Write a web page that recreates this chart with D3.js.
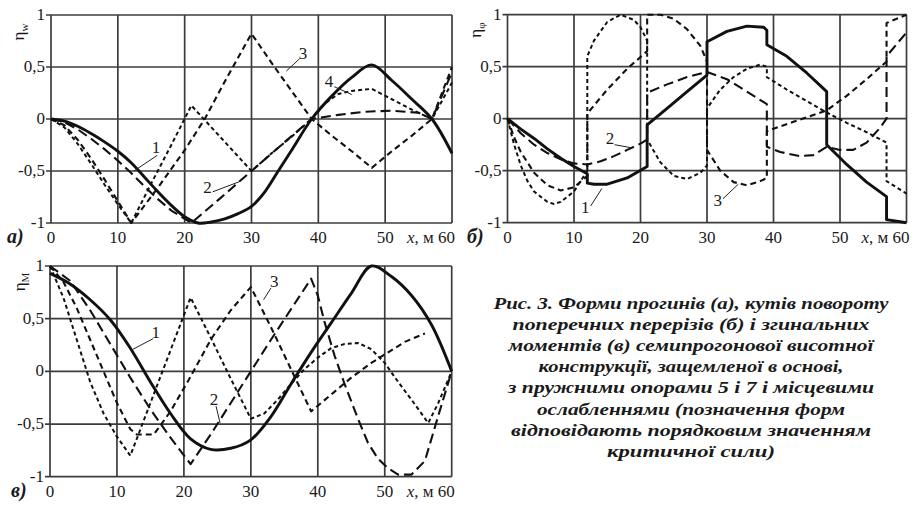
<!DOCTYPE html>
<html>
<head>
<meta charset="utf-8">
<script src="https://cdn.jsdelivr.net/npm/d3@7"></script>
<style>
  body { margin: 0; background: #fff; }
  text { font-family: "Liberation Serif", "Times New Roman", serif; fill: #1a1a1a; }
</style>
</head>
<body>
<svg id="chart" width="917" height="505"></svg>
<script>
const svg = d3.select("#chart");

// axis ticks shared by the three plots
const xTicks = [0, 10, 20, 30, 40, 50, 60];
const yTicks = [1, 0.5, 0, -0.5, -1];
const yTickLabels = ["1", "0,5", "0", "-0,5", "-1"];

// (а) deflection shapes, [x, eta]
const defl1 = [[0,0],[2,-0.02],[4,-0.07],[6,-0.14],[8,-0.22],[10,-0.31],[12,-0.42],[14,-0.56],[16,-0.7],[18,-0.83],[20,-0.94],[22,-1],[24,-0.99],[26,-0.96],[28,-0.91],[30,-0.84],[32,-0.7],[34,-0.5],[36,-0.3],[39,0],[42,0.22],[45,0.4],[48,0.52],[51,0.37],[54,0.19],[57,0],[60,-0.33]];
const defl2 = [[0,0],[2,-0.03],[4,-0.1],[6,-0.19],[8,-0.29],[10,-0.4],[12,-0.52],[14,-0.65],[16,-0.77],[18,-0.88],[21,-1],[25,-0.78],[30,-0.5],[35,-0.22],[39,0],[43,0.04],[47,0.07],[51,0.08],[55,0.06],[57,0],[60,0.45]];
const defl3 = [[0,0],[2,-0.06],[4,-0.2],[6,-0.38],[8,-0.58],[10,-0.79],[12,-1],[14,-0.83],[16,-0.66],[18,-0.48],[20,-0.3],[23,0],[26,0.36],[30,0.82],[33,0.54],[36,0.27],[39,0],[42,-0.16],[45,-0.31],[48,-0.47],[51,-0.31],[54,-0.16],[57,0],[60,0.5]];
const defl4 = [[0,0],[2,-0.08],[4,-0.24],[6,-0.43],[8,-0.63],[10,-0.82],[12,-1],[15,-0.62],[18,-0.25],[21,0.13],[24,-0.08],[27,-0.29],[30,-0.5],[33,-0.33],[36,-0.17],[39,0],[41,0.15],[43,0.24],[45,0.27],[48,0.29],[51,0.19],[54,0.09],[57,0],[60,0.35]];

// (б) rotation angle shapes, jumps at the supports
const rot1 = [[0,0],[2,-0.1],[4,-0.19],[6,-0.29],[8,-0.38],[10,-0.46],[12,-0.53],[12,-0.62],[13,-0.63],[15,-0.63],[18,-0.57],[21,-0.46],[21,-0.06],[24,0.1],[27,0.26],[30,0.42],[30,0.74],[33,0.84],[36,0.89],[38.5,0.88],[39,0.85],[39,0.71],[42,0.6],[45,0.44],[47,0.32],[48,0.26],[48,-0.25],[51,-0.44],[54,-0.61],[57,-0.75],[57,-0.97],[60,-1]];
const rot2 = [[0,0],[2,-0.14],[4,-0.25],[6,-0.33],[8,-0.39],[10,-0.43],[12,-0.44],[14,-0.41],[16,-0.36],[18,-0.3],[20,-0.24],[21,-0.2],[21,0.25],[24,0.33],[27,0.4],[30,0.45],[33,0.38],[36,0.26],[39,0.14],[39,-0.27],[41,-0.32],[44,-0.36],[46,-0.35],[48,-0.27],[50,-0.3],[52,-0.3],[54,-0.23],[56,-0.09],[57,0],[57,0.6],[60,0.83]];
const rot3 = [[0,0],[1,-0.18],[2,-0.32],[4,-0.52],[6,-0.64],[8,-0.69],[10,-0.66],[12,-0.55],[12,0.05],[15,0.28],[18,0.48],[21,0.65],[21,1],[23,1],[25,0.96],[27,0.86],[29,0.7],[30,0.55],[30,-0.3],[32,-0.5],[34,-0.61],[36,-0.64],[38,-0.6],[39,-0.57],[39,-0.12],[43,-0.03],[48,0.08],[51,0.22],[54,0.38],[57,0.55],[57,0.92],[60,1]];
const rot4 = [[0,0],[1,-0.25],[2,-0.45],[3,-0.6],[4,-0.7],[6,-0.8],[7,-0.82],[8,-0.8],[10,-0.7],[12,-0.5],[12,0.6],[13,0.75],[15,0.93],[17,1],[19,0.95],[20,0.88],[21,0.75],[21,-0.2],[23,-0.42],[25,-0.55],[27,-0.58],[29,-0.52],[30,-0.45],[30,0.1],[32,0.28],[34,0.4],[36,0.48],[38,0.52],[39,0.5],[39,0.4],[42,0.28],[45,0.17],[48,0.06],[51,-0.04],[54,-0.13],[57,-0.23],[57,-0.6],[60,-0.72]];

// (в) bending moment shapes
const mom1 = [[0,0.93],[3,0.83],[6,0.68],[9,0.49],[12,0.22],[15,-0.1],[18,-0.4],[21,-0.64],[24,-0.74],[27,-0.73],[30,-0.65],[33,-0.43],[36,-0.12],[39,0.18],[42,0.46],[45,0.74],[48,1],[51,0.9],[54,0.72],[57,0.44],[60,0]];
const mom2 = [[0,1],[3,0.86],[6,0.58],[9,0.26],[12,-0.06],[15,-0.36],[18,-0.63],[21,-0.88],[24,-0.6],[27,-0.3],[30,0],[33,0.3],[36,0.59],[39,0.88],[40,0.72],[41,0.47],[42.5,0.15],[44,-0.12],[46,-0.45],[47.5,-0.68],[49,-0.83],[50.5,-0.92],[52,-0.98],[54,-0.98],[56,-0.85],[58,-0.42],[60,0]];
const mom3 = [[0,1],[2,0.85],[4,0.6],[6,0.3],[8,0],[10,-0.3],[12,-0.55],[13,-0.6],[15.5,-0.6],[18,-0.38],[21,-0.05],[24,0.3],[27,0.58],[30,0.8],[33,0.42],[36,0.02],[39,-0.38],[42,-0.22],[45,-0.06],[48,0.08],[50,0.16],[53,0.28],[56,0.36]];
const mom4 = [[0,1],[2,0.7],[4,0.3],[6,-0.1],[8,-0.4],[10,-0.62],[12,-0.8],[15,-0.3],[18,0.2],[21,0.7],[24,0.32],[27,-0.07],[30,-0.45],[32,-0.4],[34,-0.27],[36,-0.12],[38,0.02],[40,0.13],[42,0.22],[44,0.26],[46,0.27],[48,0.21],[50,0.08],[52,-0.1],[54,-0.27],[56.5,-0.49],[58,-0.3],[60,0]];

// curve numbers: label point and leader end, [x, eta]
const deflNotes = [["1", [15.7,-0.33], [15.9,-0.35], [12.4,-0.5]], ["2", [23.4,-0.71], [24.2,-0.7], [28.3,-0.6]], ["3", [37.7,0.58], [37.2,0.58], [35.2,0.46]], ["4", [41.6,0.31], [42.4,0.31], [45,0.235]]];
const rotNotes = [["1", [11.7,-0.91], [12.5,-0.84], [14.2,-0.67]], ["2", [15.4,-0.24], [16.1,-0.25], [18.7,-0.28]], ["3", [31.6,-0.84], [32.4,-0.77], [34.7,-0.63]]];
const momNotes = [["1", [15.8,0.32], [15.4,0.31], [12.4,0.21]], ["2", [24.5,-0.32], [24.8,-0.33], [25.4,-0.49]], ["3", [33.5,0.8], [33,0.79], [31.9,0.68]]];

const captionLines = [
  "Рис. 3. Форми прогинів (а), кутів повороту",
  "поперечних перерізів (б) і згинальних",
  "моментів (в) семипрогонової висотної",
  "конструкції, защемленої в основі,",
  "з пружними опорами 5 і 7 і місцевими",
  "ослабленнями (позначення форм",
  "відповідають порядковим значенням",
  "критичної сили)"
];
const captionWidths = [395, 357, 365, 305, 366, 308, 360, 168];

// line look for curves 1..4
const lineStyles = [
  { width: 2.9, dash: null },
  { width: 2.1, dash: "10,5" },
  { width: 2.1, dash: "6,4" },
  { width: 2.0, dash: "4,3" }
];

const panels = [
  { tag: "а)", sub: "w", box: [51, 452, 15, 223], tagX: 7, axX: 24, axY: 32,
    series: [defl1, defl2, defl3, defl4], notes: deflNotes, smooth: true },
  { tag: "б)", sub: "φ", box: [507.5, 906.5, 14.7, 222.7], tagX: 467, axX: 481, axY: 30,
    series: [rot1, rot2, rot3, rot4], notes: rotNotes, smooth: false },
  { tag: "в)", sub: "M", box: [50, 451.7, 266, 476.7], tagX: 11, axX: 25, axY: 282,
    series: [mom1, mom2, mom3, mom4], notes: momNotes, smooth: true }
];

function drawPanel(p) {
  let x = d3.scaleLinear().domain([0, 60]).range([p.box[0], p.box[1]]);
  let y = d3.scaleLinear().domain([1, -1]).range([p.box[2], p.box[3]]);
  let g = svg.append("g");

  // grid
  g.selectAll(".vgrid")
    .data(xTicks)
    .enter()
    .append("line")
    .attr("x1", d => x(d)).attr("x2", d => x(d))
    .attr("y1", y(1)).attr("y2", y(-1))
    .attr("stroke", "#3c3c3c").attr("stroke-width", 1.7);

  g.selectAll(".hgrid")
    .data(yTicks)
    .enter()
    .append("line")
    .attr("x1", x(0) - 5).attr("x2", x(60))
    .attr("y1", d => y(d)).attr("y2", d => y(d))
    .attr("stroke", "#3c3c3c").attr("stroke-width", 1.7);

  // y tick labels
  g.selectAll(".ylab")
    .data(yTicks)
    .enter()
    .append("text")
    .attr("x", x(0) - 6)
    .attr("y", d => y(d) + 5)
    .attr("text-anchor", "end")
    .attr("font-size", 17)
    .text((d, i) => yTickLabels[i]);

  // x tick labels, the last one carries the unit
  let baseY = y(-1) + 20;
  g.selectAll(".xlab")
    .data(xTicks.slice(0, -1))
    .enter()
    .append("text")
    .attr("x", d => x(d))
    .attr("y", baseY)
    .attr("text-anchor", "middle")
    .attr("font-size", 17)
    .text(d => d);

  let last = g.append("text")
    .attr("x", x(60) + 3)
    .attr("y", baseY)
    .attr("text-anchor", "end")
    .attr("font-size", 17);
  last.append("tspan").attr("font-style", "italic").text("x");
  last.append("tspan").text(", м " + xTicks[xTicks.length - 1]);

  // panel tag
  g.append("text")
    .attr("x", p.tagX)
    .attr("y", baseY)
    .attr("font-size", 20)
    .attr("font-style", "italic")
    .attr("font-weight", "bold")
    .text(p.tag);

  // y axis title
  let t = g.append("text")
    .attr("transform", `translate(${p.axX}, ${p.axY}) rotate(-90)`)
    .attr("text-anchor", "middle")
    .attr("font-size", 17);
  t.append("tspan").text("η");
  t.append("tspan").attr("font-size", 11).attr("dy", 4).text(p.sub);

  // curves
  p.series.forEach(function(data, i) {
    let st = lineStyles[i];
    let line = d3.line()
      .x(d => x(d[0]))
      .y(d => y(d[1]))
      .curve(p.smooth && i === 0 ? d3.curveCatmullRom.alpha(0.5) : d3.curveLinear);

    g.append("path")
      .datum(data)
      .attr("d", line)
      .attr("fill", "none")
      .attr("stroke", "#111")
      .attr("stroke-width", st.width)
      .attr("stroke-linejoin", "round")
      .attr("stroke-dasharray", st.dash);
  });

  // curve numbers with leaders
  p.notes.forEach(function(n) {
    g.append("line")
      .attr("x1", x(n[2][0])).attr("y1", y(n[2][1]))
      .attr("x2", x(n[3][0])).attr("y2", y(n[3][1]))
      .attr("stroke", "#222").attr("stroke-width", 1);
    g.append("text")
      .attr("x", x(n[1][0]))
      .attr("y", y(n[1][1]))
      .attr("text-anchor", "middle")
      .attr("font-size", 17)
      .text(n[0]);
  });
}

panels.forEach(drawPanel);

// figure caption
svg.append("g")
  .selectAll("text")
  .data(captionLines)
  .enter()
  .append("text")
  .attr("x", 691)
  .attr("y", (d, i) => 309 + i * 21.1)
  .attr("text-anchor", "middle")
  .attr("font-size", 17)
  .attr("font-style", "italic")
  .attr("font-weight", "bold")
  .attr("textLength", (d, i) => captionWidths[i])
  .attr("lengthAdjust", "spacingAndGlyphs")
  .text(d => d);
</script>
</body>
</html>
